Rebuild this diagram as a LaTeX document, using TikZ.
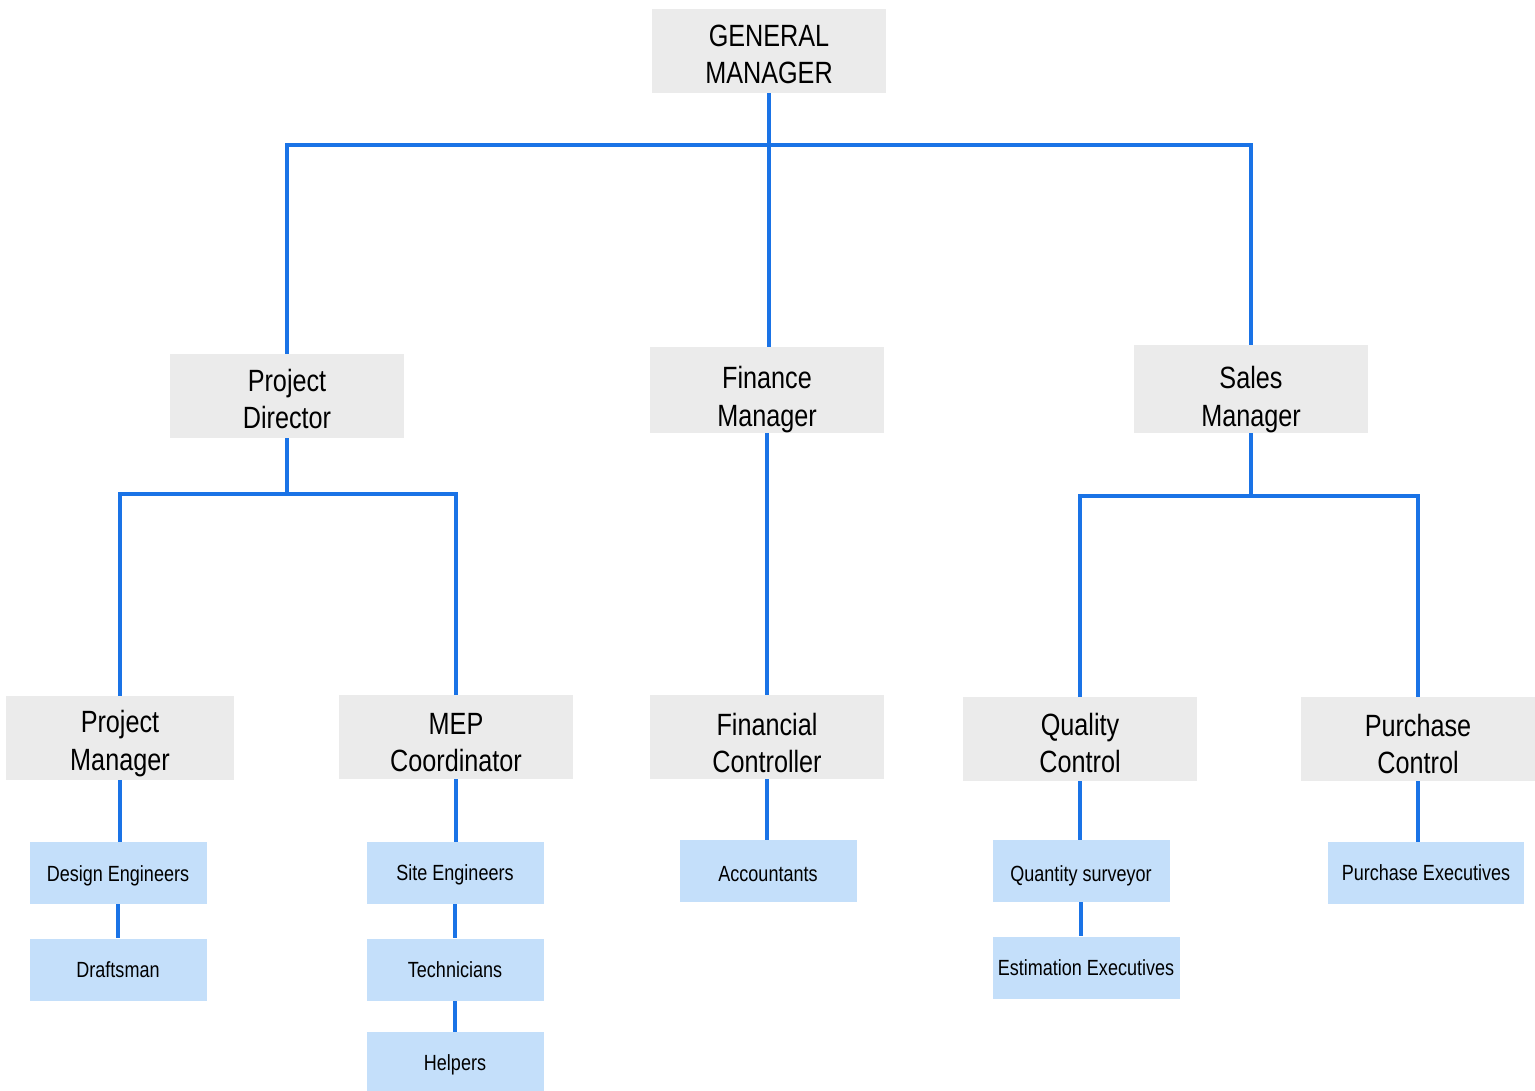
\documentclass[tikz,border=0pt]{standalone}
\usepackage{fontspec}
\setmainfont{Liberation Sans}[FakeStretch=0.82]
\usetikzlibrary{positioning}
\definecolor{boxgray}{HTML}{EBEBEB}
\definecolor{boxblue}{HTML}{C4DFFA}
\definecolor{linkblue}{HTML}{1A73E6}
\def \tu {0.02cm}

\begin{document}
\begin{tikzpicture}[node distance=34*\tu,
    head/.style={fill=boxgray, minimum width=234*\tu, minimum height=84*\tu,
      inner sep=0pt, align=center, font=\fontsize{17.5}{21.5}\selectfont,
      execute at begin node={\rule{0pt}{#1}}},
    head/.default=0pt,
    staff/.style={fill=boxblue, minimum width=177*\tu, minimum height=62*\tu,
      inner sep=0pt, font=\fontsize{12.5}{15}\selectfont,
      execute at begin node={\rule{0pt}{#1}}},
    staff/.default=0pt,
    link/.style={draw=linkblue, line width=4*\tu}]
    \useasboundingbox (0,0) rectangle (1535*\tu,-1090*\tu);

    % managers
    \node[head=37.5pt] (gm) at (769*\tu,-51*\tu) {GENERAL\\MANAGER};
    \node[head=37.5pt] (pd) at (287*\tu,-396*\tu) {Project\\Director};
    \node[head=45.4pt] (fm) at (767*\tu,-390*\tu) {Finance\\Manager};
    \node[head=46.5pt] (sm) at (1251*\tu,-389*\tu) {Sales\\Manager};

    \node[head=40.9pt,minimum width=228*\tu] (pm) at (120*\tu,-738*\tu) {Project\\Manager};
    \node[head=39.8pt] (mep) at (456*\tu,-737*\tu) {MEP\\Coordinator};
    \node[head=40.9pt] (fc) at (767*\tu,-737*\tu) {Financial\\Controller};
    \node[head=38.6pt] (qc) at (1080*\tu,-739*\tu) {Quality\\Control};
    \node[head=39.8pt] (pc) at (1418*\tu,-739*\tu) {Purchase\\Control};

    % staff
    \node[staff=12.4pt] (de) at (118*\tu,-873*\tu) {Design Engineers};
    \node[staff,below=of de] (dr) {Draftsman};
    \node[staff=11.3pt] (se) at (455*\tu,-873*\tu) {Site Engineers};
    \node[staff,below=of se] (te) {Technicians};
    \node[staff=12.4pt,below=31*\tu of te,minimum height=59*\tu] (he) {Helpers};
    \node[staff=12.4pt] (ac) at (768*\tu,-871*\tu) {Accountants};
    \node[staff=14.7pt] (qs) at (1081*\tu,-871*\tu) {Quantity surveyor};
    \node[staff,below=of qs,xshift=5*\tu,minimum width=187*\tu] (ee) {Estimation Executives};
    \node[staff,minimum width=196*\tu] (pe) at (1426*\tu,-873*\tu) {Purchase Executives};

    % links
    \draw[link] (gm.south) -- ++(0,-52*\tu) coordinate (bus1);
    \draw[link] (pd.north) |- (bus1) -| (sm.north);
    \draw[link] (bus1) -- (bus1 |- fm.north);
    \draw[link] (pd.south) -- ++(0,-56*\tu) coordinate (bus2);
    \draw[link] (pm.north) |- (bus2) -| (mep.north);
    \draw[link] (sm.south) -- ++(0,-63*\tu) coordinate (bus3);
    \draw[link] (qc.north) |- (bus3) -| (pc.north);
    \draw[link] (fm.south) -- (fc.north);

    \draw[link] (pm.south) -- (pm.south |- de.north);
    \draw[link] (de.south) -- (dr.north);
    \draw[link] (mep.south) -- (mep.south |- se.north);
    \draw[link] (se.south) -- (te.north);
    \draw[link] (te.south) -- (he.north);
    \draw[link] (fc.south) -- (fc.south |- ac.north);
    \draw[link] (qc.south) -- (qc.south |- qs.north);
    \draw[link] (qs.south) -- (qs.south |- ee.north);
    \draw[link] (pc.south) -- (pc.south |- pe.north);
\end{tikzpicture}
\end{document}
